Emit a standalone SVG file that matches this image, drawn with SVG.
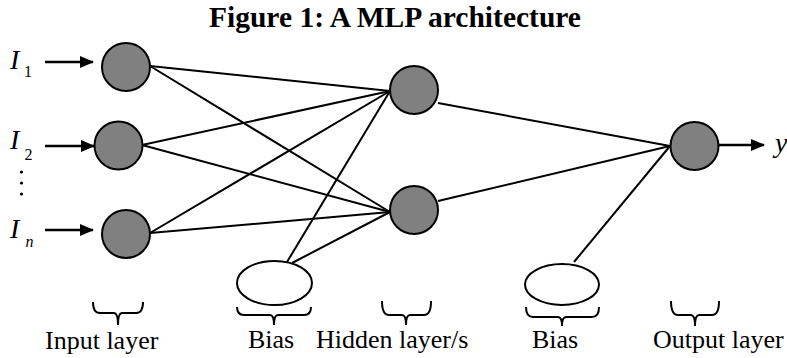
<svg xmlns="http://www.w3.org/2000/svg" width="787" height="358" viewBox="0 0 787 358">
  <defs>
    <marker id="arrow" viewBox="0 0 14 12" refX="13" refY="6" markerWidth="14" markerHeight="12" markerUnits="userSpaceOnUse" orient="auto">
      <path d="M0,0 L14,6 L0,12 Z" fill="#000"/>
    </marker>
    <style>
      .neuron { fill: #808080; stroke: #000; stroke-width: 2; }
      .bias { fill: #fff; stroke: #000; stroke-width: 2; }
      .edge { stroke: #000; stroke-width: 2; fill: none; }
      .in-arrow { stroke: #000; stroke-width: 2.5; fill: none; marker-end: url(#arrow); }
      .brace { stroke: #000; stroke-width: 2; fill: none; }
      .label { font-family: "Liberation Serif", "Times New Roman", serif; font-size: 26px; fill: #000; }
      .var { font-family: "Liberation Serif", "Times New Roman", serif; font-style: italic; font-size: 28px; fill: #000; }
      .sub { font-family: "Liberation Serif", "Times New Roman", serif; font-size: 16px; fill: #000; }
      .title { font-family: "Liberation Serif", "Times New Roman", serif; font-weight: bold; font-size: 29.5px; fill: #000; }
    </style>
  </defs>

  <text class="title" x="209" y="27">Figure 1: A MLP architecture</text>

  <!-- weighted connections -->
  <g id="connectors">
    <line class="edge" x1="150" y1="66" x2="390" y2="91"/>
    <line class="edge" x1="150" y1="66" x2="390" y2="212"/>
    <line class="edge" x1="142" y1="145" x2="390" y2="91"/>
    <line class="edge" x1="142" y1="145" x2="390" y2="212"/>
    <line class="edge" x1="150" y1="233" x2="390" y2="91"/>
    <line class="edge" x1="150" y1="233" x2="390" y2="212"/>
    <line class="edge" x1="287" y1="262" x2="390" y2="91"/>
    <line class="edge" x1="292" y1="263" x2="390" y2="212"/>
    <line class="edge" x1="438" y1="103" x2="670" y2="146"/>
    <line class="edge" x1="438" y1="201" x2="670" y2="146"/>
    <line class="edge" x1="574" y1="262" x2="670" y2="146"/>
    <!-- input and output arrows -->
    <line class="in-arrow" x1="45" y1="62" x2="93" y2="62"/>
    <line class="in-arrow" x1="45" y1="146" x2="94" y2="146"/>
    <line class="in-arrow" x1="45" y1="230" x2="93" y2="230"/>
    <line class="in-arrow" x1="719" y1="145" x2="764" y2="145"/>
  </g>

  <!-- input layer -->
  <g id="input1">
    <circle class="neuron" cx="126" cy="67" r="24"/>
    <text class="var" x="10" y="69">I</text>
    <text class="sub" x="24" y="77">1</text>
  </g>
  <g id="input2">
    <circle class="neuron" cx="118.5" cy="145.5" r="24"/>
    <text class="var" x="10" y="149">I</text>
    <text class="sub" x="24.5" y="160">2</text>
  </g>
  <g id="ellipsis">
    <circle cx="21.5" cy="172" r="1.6" fill="#000"/>
    <circle cx="21.5" cy="183" r="1.6" fill="#000"/>
    <circle cx="21.5" cy="194" r="1.6" fill="#000"/>
  </g>
  <g id="inputN">
    <circle class="neuron" cx="126" cy="234" r="24"/>
    <text class="var" x="10" y="238">I</text>
    <text class="var" x="25.5" y="247" style="font-size:16px">n</text>
  </g>

  <!-- hidden layer -->
  <g id="hidden1">
    <circle class="neuron" cx="414" cy="90" r="24"/>
  </g>
  <g id="hidden2">
    <circle class="neuron" cx="414" cy="210" r="24"/>
  </g>

  <!-- bias units -->
  <g id="bias1">
    <ellipse class="bias" cx="274.5" cy="283" rx="37.5" ry="22"/>
  </g>
  <g id="bias2">
    <ellipse class="bias" cx="562" cy="284.5" rx="37" ry="20.5"/>
  </g>

  <!-- output layer -->
  <g id="output">
    <circle class="neuron" cx="694.5" cy="146" r="24"/>
    <text class="var" x="775" y="152">y</text>
  </g>

  <!-- layer braces and captions -->
  <g id="input-caption">
    <path class="brace" d="M93,302 Q93,313 100,313 L114,313 Q118,313 118,325 Q118,313 122,313 L136,313 Q143,313 143,302"/>
    <text class="label" x="45" y="349">Input layer</text>
  </g>
  <g id="bias1-caption">
    <path class="brace" d="M237,307 Q237,315 244,315 L270,315 Q274,315 274,325 Q274,315 278,315 L304,315 Q311,315 311,307"/>
    <text class="label" x="248" y="348">Bias</text>
  </g>
  <g id="hidden-caption">
    <path class="brace" d="M382,301 Q382,315 389,315 L402,315 Q406,315 406,325 Q406,315 410,315 L424,315 Q431,315 431,301"/>
    <text class="label" x="316" y="348">Hidden layer/s</text>
  </g>
  <g id="bias2-caption">
    <path class="brace" d="M526,307 Q526,317 533,317 L558,317 Q562,317 562,326 Q562,317 566,317 L592,317 Q599,317 599,307"/>
    <text class="label" x="532" y="348">Bias</text>
  </g>
  <g id="output-caption">
    <path class="brace" d="M671,301 Q671,315 678,315 L691,315 Q695,315 695,326 Q695,315 699,315 L712,315 Q719,315 719,301"/>
    <text class="label" x="653" y="348">Output layer</text>
  </g>
</svg>
